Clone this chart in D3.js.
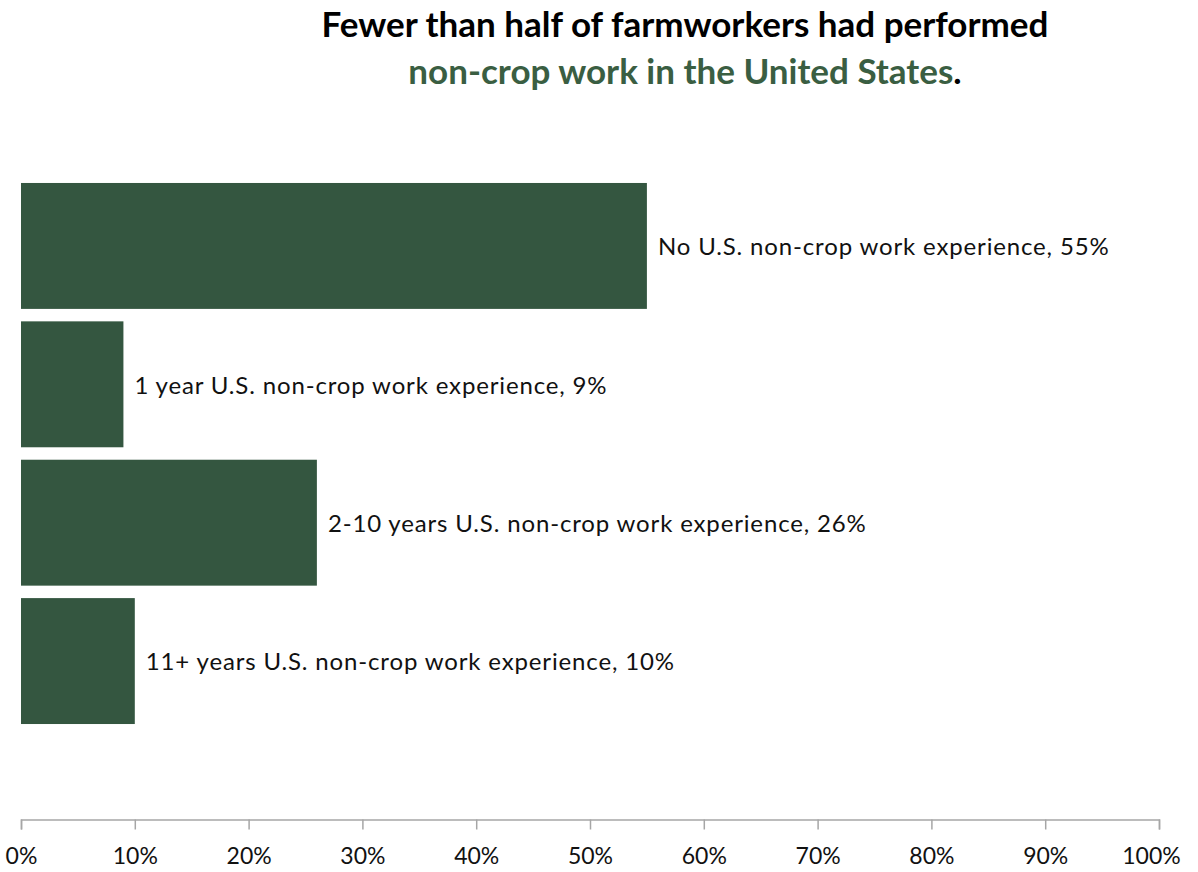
<!DOCTYPE html>
<html><head><meta charset="utf-8">
<script src="https://cdn.jsdelivr.net/npm/d3@7"></script>
<style>
html,body{margin:0;padding:0;background:#fff;}
svg{display:block;font-family:Lato,"Open Sans",sans-serif;}
</style></head>
<body><svg id="c" width="1198" height="872"></svg>
<script>
const categories = ["No U.S. non-crop work experience","1 year U.S. non-crop work experience","2-10 years U.S. non-crop work experience","11+ years U.S. non-crop work experience"];
const values = [55, 9, 26, 10];
const tickValues = [0,10,20,30,40,50,60,70,80,90,100];
const tickLabels = ["0%","10%","20%","30%","40%","50%","60%","70%","80%","90%","100%"];

const svg = d3.select("#c");
const barColor = "#345640";
const green = "#3a5e42";

const x = d3.scaleLinear().domain([0,100]).range([21,1159]);
const y = d3.scaleBand().domain(categories).range([176.75,730.25]).paddingInner(0.09).paddingOuter(0.045);

// title
const t = svg.append("text").attr("text-anchor","middle").attr("font-weight","bold").attr("font-size",35);
t.append("tspan").attr("x",685).attr("y",37).attr("fill","#000").text("Fewer than half of farmworkers had performed");
const l2 = t.append("tspan").attr("x",685).attr("y",84);
l2.append("tspan").attr("fill",green).text("non-crop work in the United States");
l2.append("tspan").attr("fill","#000").text(".");

// bars
svg.selectAll("rect.bar").data(categories).join("rect").attr("class","bar")
  .attr("x",x(0)).attr("y",d=>y(d)).attr("height",y.bandwidth())
  .attr("width",(d,i)=>x(values[i])-x(0)).attr("fill",barColor);

svg.selectAll("text.lab").data(categories).join("text").attr("class","lab")
  .attr("x",(d,i)=>x(values[i])+11).attr("y",d=>y(d)+y.bandwidth()/2+1)
  .attr("dy","0.35em").attr("font-size",24).attr("letter-spacing",0.85).attr("fill","#111")
  .text((d,i)=>d+", "+values[i]+"%");

// axis
const axis = d3.axisBottom(x).tickValues(tickValues).tickSize(10).tickPadding(18)
  .tickFormat((d,i)=>tickLabels[i]);
const g = svg.append("g").attr("transform","translate(0,819.5)").call(axis);
g.select(".domain").attr("stroke","#a6a6a6").attr("stroke-width",1.5);
g.selectAll(".tick line").attr("stroke","#a6a6a6").attr("stroke-width",1.5);
g.selectAll(".tick text").attr("font-size",23).attr("font-family","Lato,'Open Sans',sans-serif").attr("fill","#111");
g.selectAll(".tick text").filter(d=>d===100).attr("dx",-8);
</script></body></html>
